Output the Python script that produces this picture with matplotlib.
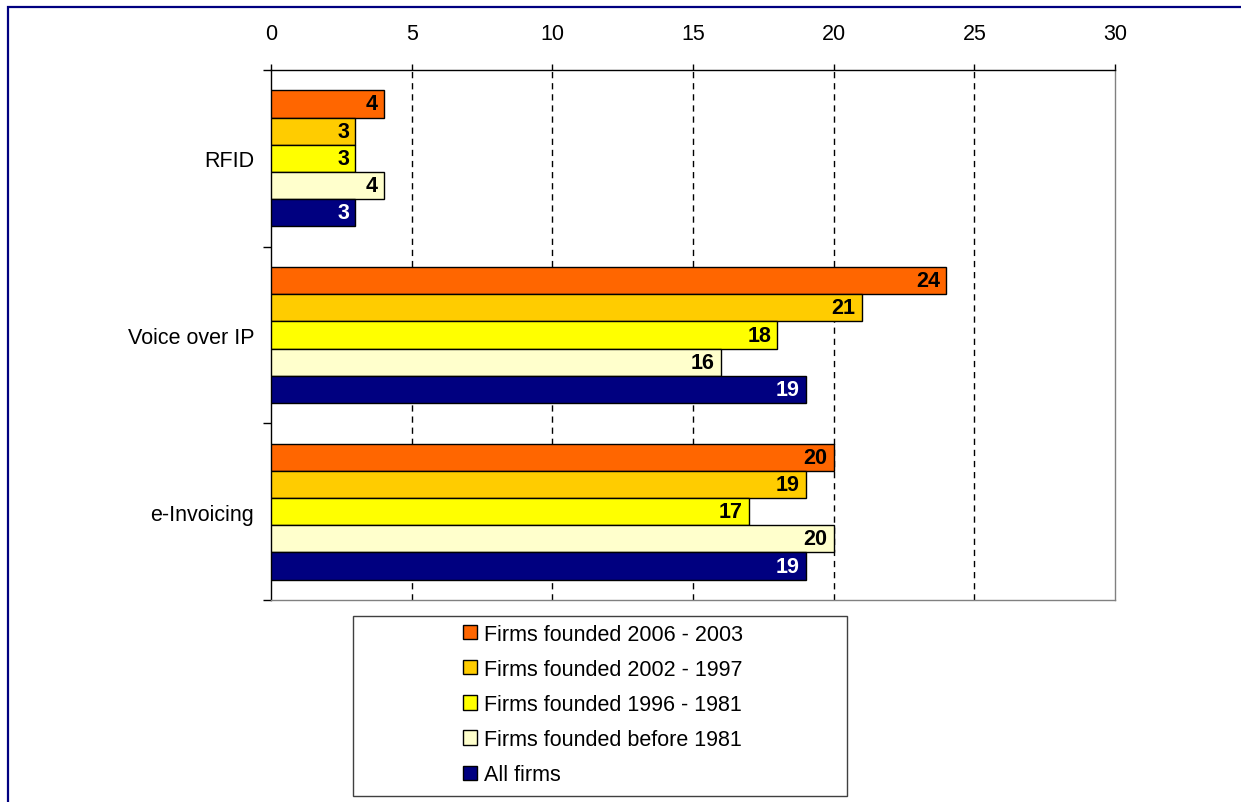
import matplotlib
matplotlib.use("Agg")
import matplotlib.pyplot as plt
from matplotlib.patches import Rectangle, Patch
import numpy as np

plt.rcParams['font.family'] = ['Liberation Sans', 'DejaVu Sans']

categories = ["RFID", "Voice over IP", "e-Invoicing"]
series_names = ["Firms founded 2006 - 2003", "Firms founded 2002 - 1997",
                "Firms founded 1996 - 1981", "Firms founded before 1981", "All firms"]
values = {
    "Firms founded 2006 - 2003": [4, 24, 20],
    "Firms founded 2002 - 1997": [3, 21, 19],
    "Firms founded 1996 - 1981": [3, 18, 17],
    "Firms founded before 1981": [4, 16, 20],
    "All firms": [3, 19, 19],
}
colors = ["#FF6600", "#FFCC00", "#FFFF00", "#FFFFCC", "#000080"]
label_colors = ["black", "black", "black", "black", "white"]
xticks = [0, 5, 10, 15, 20, 25, 30]

W, H = 1241, 803
FS = 15.5
fig = plt.figure(figsize=(W / 100, H / 100), dpi=100)
ax = fig.add_axes([271 / W, 1 - 601 / H, (1115 - 271) / W, (601 - 71) / H])

n = len(series_names)
bh = 1 / (n + 1.5)
for i, name in enumerate(series_names):
    for c, v in enumerate(values[name]):
        yc = c - 0.5 + 0.75 * bh + (i + 0.5) * bh
        ax.barh(yc, v, height=bh, color=colors[i], edgecolor="black", linewidth=1, zorder=3)
        ax.annotate(str(v), (v, yc), xytext=(-4.5, 0), textcoords="offset points",
                    ha="right", va="center", fontsize=15.5, fontweight="bold",
                    color=label_colors[i], zorder=4)

ax.set_xlim(0, 30)
ax.set_ylim(len(categories) - 0.5, -0.5)
ax.xaxis.tick_top()
ax.set_xticks(xticks)
ax.set_xticklabels([str(t) for t in xticks], fontsize=FS)
ax.tick_params(axis="x", direction="out", length=4.5, width=1, pad=14, colors="black")

ax.set_yticks(range(len(categories)))
ax.set_yticklabels(categories, fontsize=FS)
ax.tick_params(axis="y", which="major", length=0, pad=12)
ax.set_yticks([i - 0.5 for i in range(len(categories) + 1)], minor=True)
ax.tick_params(axis="y", which="minor", length=6, width=1, direction="out", color="black")

for t in xticks[1:-1]:
    ax.axvline(t, color="black", linewidth=1, linestyle=(0, (4.5, 3.5)), zorder=1)

ax.spines["top"].set_color("black")
ax.spines["left"].set_color("black")
ax.spines["right"].set_color("#808080")
ax.spines["bottom"].set_color("#808080")
for s in ax.spines.values():
    s.set_linewidth(1)

# legend box
fig.patches.append(Rectangle((353 / W, 1 - 797 / H), (847 - 353) / W, (797 - 617) / H,
                             transform=fig.transFigure, fill=False, edgecolor="#404040",
                             linewidth=1))
handles = [Patch(facecolor=colors[i], edgecolor="black", linewidth=1) for i in range(n)]
fig.legend(handles, series_names, loc="upper left",
           bbox_to_anchor=(454 / W, 1 - 616 / H), frameon=False, fontsize=FS,
           handlelength=0.65, handleheight=0.65, handletextpad=0.35, labelspacing=0.66,
           borderaxespad=0, borderpad=0.4)

# outer navy frame (cropped at right and bottom)
fig.patches.append(Rectangle((7.5 / W, -0.1), 1.2, 1 - 7.5 / H + 0.1,
                             transform=fig.transFigure, fill=False, edgecolor="#000080",
                             linewidth=1.6, clip_on=False))

fig.savefig("out.png", dpi=100)
